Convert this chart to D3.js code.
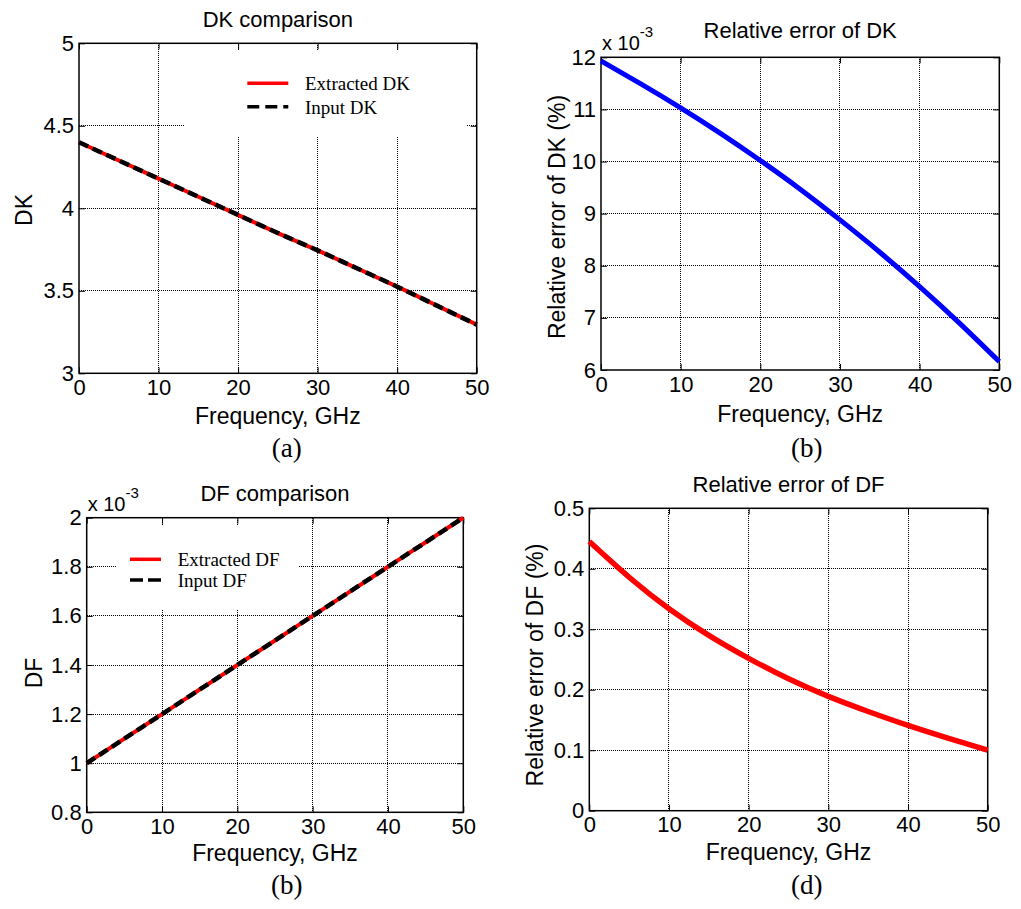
<!DOCTYPE html>
<html>
<head>
<meta charset="utf-8">
<script src="https://cdn.jsdelivr.net/npm/d3@7"></script>
<style>
  body { margin: 0; background: #fff; }
  svg { display: block; }
  .tick text { font-family: "Liberation Sans", Arial, sans-serif; font-size: 22px; fill: #000; }
  .tick line { stroke: #000; }
</style>
</head>
<body>
<svg id="chart" width="1021" height="909"></svg>
<script>
// frequency points, GHz
var freq = [0, 5, 10, 15, 20, 25, 30, 35, 40, 45, 50];

// (a) DK comparison
var dkExtracted = [4.40, 4.29, 4.18, 4.07, 3.96, 3.85, 3.745, 3.635, 3.525, 3.41, 3.295];
var dkInput     = [4.40, 4.29, 4.18, 4.07, 3.96, 3.85, 3.745, 3.635, 3.525, 3.41, 3.295];
var dkTicks = [3, 3.5, 4, 4.5, 5];

// (b) relative error of DK, x 10^-3 %
var dkError = [11.93, 11.49, 11.03, 10.54, 10.02, 9.47, 8.88, 8.26, 7.60, 6.90, 6.16];
var dkErrTicks = [6, 7, 8, 9, 10, 11, 12];

// (c) DF comparison, x 10^-3
var dfExtracted = [1.0, 1.1, 1.2, 1.3, 1.4, 1.5, 1.6, 1.7, 1.8, 1.9, 2.0];
var dfInput     = [1.0, 1.1, 1.2, 1.3, 1.4, 1.5, 1.6, 1.7, 1.8, 1.9, 2.0];
var dfTicks = [0.8, 1, 1.2, 1.4, 1.6, 1.8, 2];

// (d) relative error of DF, %
var dfError = [0.445, 0.386, 0.334, 0.290, 0.252, 0.218, 0.189, 0.164, 0.141, 0.120, 0.100];
var dfErrTicks = [0, 0.1, 0.2, 0.3, 0.4, 0.5];

var xTicks = [0, 10, 20, 30, 40, 50];

var svg = d3.select('#chart');
var sans = '"Liberation Sans", Arial, sans-serif';
var serif = '"Liberation Serif", "Times New Roman", serif';

function drawPanel(p) {
  var x = d3.scaleLinear().domain([0, 50]).range([p.left, p.right]);
  var y = d3.scaleLinear().domain(p.yDomain).range([p.bottom, p.top]);
  var g = svg.append('g');

  // grid (dotted, matlab style)
  g.selectAll('.vg').data(xTicks.slice(1, -1)).enter()
    .append('line')
    .attr('x1', function(d) { return x(d); })
    .attr('x2', function(d) { return x(d); })
    .attr('y1', p.top).attr('y2', p.bottom)
    .attr('stroke', '#000').attr('stroke-width', 1)
    .attr('stroke-dasharray', '1,1').attr('shape-rendering', 'crispEdges');
  g.selectAll('.hg').data(p.yTicks.slice(1, -1)).enter()
    .append('line')
    .attr('x1', p.left).attr('x2', p.right)
    .attr('y1', function(d) { return y(d); })
    .attr('y2', function(d) { return y(d); })
    .attr('stroke', '#000').attr('stroke-width', 1)
    .attr('stroke-dasharray', '1,1').attr('shape-rendering', 'crispEdges');

  // axes with inward ticks on all four sides
  var fmt = function(d) { return d3.format('~g')(d); };
  g.append('g').attr('transform', 'translate(0,' + p.bottom + ')')
    .call(d3.axisBottom(x).tickValues(xTicks).tickFormat(fmt).tickSizeInner(-6).tickSizeOuter(0).tickPadding(6))
    .call(function(a) { a.select('.domain').remove(); });
  g.append('g').attr('transform', 'translate(' + p.left + ',0)')
    .call(d3.axisLeft(y).tickValues(p.yTicks).tickFormat(fmt).tickSizeInner(-6).tickSizeOuter(0).tickPadding(5))
    .call(function(a) { a.select('.domain').remove(); });
  g.append('g').attr('transform', 'translate(0,' + p.top + ')')
    .call(d3.axisTop(x).tickValues(xTicks).tickFormat('').tickSizeInner(-6).tickSizeOuter(0))
    .call(function(a) { a.select('.domain').remove(); });
  g.append('g').attr('transform', 'translate(' + p.right + ',0)')
    .call(d3.axisRight(y).tickValues(p.yTicks).tickFormat('').tickSizeInner(-6).tickSizeOuter(0))
    .call(function(a) { a.select('.domain').remove(); });

  // legend box hides the grid behind it
  if (p.legend) {
    var L = p.legend;
    g.append('rect').attr('x', L.box[0]).attr('y', L.box[1])
      .attr('width', L.box[2] - L.box[0]).attr('height', L.box[3] - L.box[1])
      .attr('fill', '#fff');
    L.items.forEach(function(it) {
      g.append('line')
        .attr('x1', L.lineX[0]).attr('x2', L.lineX[1])
        .attr('y1', it.y).attr('y2', it.y)
        .attr('stroke', it.color).attr('stroke-width', 3.5)
        .attr('stroke-dasharray', it.dash || null);
      g.append('text').attr('x', L.textX).attr('y', it.y + 7)
        .attr('font-family', serif).attr('font-size', L.fontSize)
        .text(it.label);
    });
  }

  // frame
  g.append('rect').attr('x', p.left).attr('y', p.top)
    .attr('width', p.right - p.left).attr('height', p.bottom - p.top)
    .attr('fill', 'none').attr('stroke', '#000').attr('stroke-width', 1.5);

  // data lines
  var line = d3.line()
    .x(function(d, i) { return x(freq[i]); })
    .y(function(d) { return y(d); })
    .curve(d3.curveNatural);
  p.series.forEach(function(s) {
    g.append('path').datum(s.values)
      .attr('d', line)
      .attr('fill', 'none')
      .attr('stroke', s.color)
      .attr('stroke-width', s.width)
      .attr('stroke-dasharray', s.dash || null);
  });

  // texts
  g.append('text').attr('x', (p.left + p.right) / 2).attr('y', p.titleY)
    .attr('text-anchor', 'middle').attr('font-family', sans).attr('font-size', 22)
    .text(p.title);
  g.append('text').attr('x', (p.left + p.right) / 2).attr('y', p.xLabelY)
    .attr('text-anchor', 'middle').attr('font-family', sans).attr('font-size', 23)
    .text('Frequency, GHz');
  g.append('text')
    .attr('transform', 'translate(' + p.yLabelX + ',' + p.yLabelY + ') rotate(-90)')
    .attr('text-anchor', 'middle').attr('font-family', sans).attr('font-size', 23)
    .text(p.yLabel);
  if (p.exponent) {
    var e = g.append('text').attr('x', p.left + 1).attr('y', p.top - 7)
      .attr('font-family', sans).attr('font-size', 20);
    e.append('tspan').text('x 10');
    e.append('tspan').attr('dy', -13).attr('font-size', 15).text('-3');
  }
  g.append('text').attr('x', p.capX).attr('y', p.capY)
    .attr('text-anchor', 'middle').attr('font-family', serif).attr('font-size', 27)
    .text(p.caption);
}

drawPanel({
  left: 79, right: 476.7, top: 43.3, bottom: 373.3,
  yDomain: [3, 5], yTicks: dkTicks,
  title: 'DK comparison', titleY: 27,
  xLabelY: 424, yLabel: 'DK', yLabelX: 32, yLabelY: 210,
  caption: '(a)', capX: 286.7, capY: 457,
  legend: {
    box: [185, 50, 466.7, 136.7], lineX: [247.3, 288.3], textX: 305, fontSize: 19,
    items: [
      { y: 83.3, color: '#ff0000', label: 'Extracted DK' },
      { y: 106.7, color: '#000', dash: '12,6', label: 'Input DK' }
    ]
  },
  series: [
    { values: dkExtracted, color: '#ff0000', width: 4 },
    { values: dkInput, color: '#000', width: 4.5, dash: '10,5' }
  ]
});

drawPanel({
  left: 601, right: 999.3, top: 57.3, bottom: 370,
  yDomain: [6, 12], yTicks: dkErrTicks,
  title: 'Relative error of DK', titleY: 38, exponent: true,
  xLabelY: 422, yLabel: 'Relative error of DK (%)', yLabelX: 565, yLabelY: 217,
  caption: '(b)', capX: 806.7, capY: 457,
  series: [
    { values: dkError, color: '#0000ff', width: 5 }
  ]
});

drawPanel({
  left: 86.7, right: 463.3, top: 517.7, bottom: 812.3,
  yDomain: [0.8, 2], yTicks: dfTicks,
  title: 'DF comparison', titleY: 500.7, exponent: true,
  xLabelY: 861, yLabel: 'DF', yLabelX: 42, yLabelY: 673,
  caption: '(b)', capX: 286.7, capY: 894,
  legend: {
    box: [116.7, 526, 298.3, 610], lineX: [130, 161], textX: 177.7, fontSize: 19,
    items: [
      { y: 559.3, color: '#ff0000', label: 'Extracted DF' },
      { y: 580, color: '#000', dash: '13,5', label: 'Input DF' }
    ]
  },
  series: [
    { values: dfExtracted, color: '#ff0000', width: 4 },
    { values: dfInput, color: '#000', width: 4.5, dash: '10,5' }
  ]
});

drawPanel({
  left: 589.3, right: 987.7, top: 508.3, bottom: 810.7,
  yDomain: [0, 0.5], yTicks: dfErrTicks,
  title: 'Relative error of DF', titleY: 491.7,
  xLabelY: 860, yLabel: 'Relative error of DF (%)', yLabelX: 543, yLabelY: 665,
  caption: '(d)', capX: 806.7, capY: 894,
  series: [
    { values: dfError, color: '#ff0000', width: 5.5 }
  ]
});
</script>
</body>
</html>
